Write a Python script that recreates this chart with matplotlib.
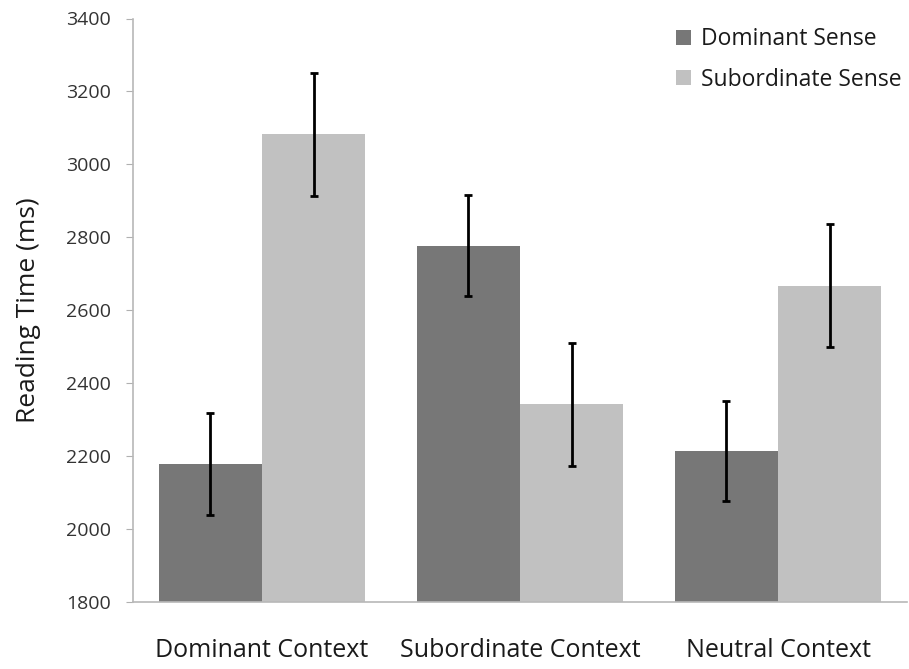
import numpy as np
import matplotlib.pyplot as plt

plt.rcParams["font.family"] = ["Open Sans", "DejaVu Sans"]

contexts = ["Dominant Context", "Subordinate Context", "Neutral Context"]
dominant = [2177, 2777, 2213]
dominant_err = [140, 139, 138]
subordinate = [3082, 2342, 2667]
subordinate_err = [169, 169, 168]

fig = plt.figure(figsize=(9.09, 6.69), dpi=100)
ax = fig.add_axes([133 / 909, 67.3 / 669, 774 / 909, 583.2 / 669])

x = np.arange(len(contexts))
w = 0.4
ax.bar(x - w / 2, dominant, w, color="#777777", label="Dominant Sense", zorder=2)
ax.bar(x + w / 2, subordinate, w, color="#c1c1c1", label="Subordinate Sense", zorder=2)
ax.errorbar(x - w / 2, dominant, yerr=dominant_err, fmt="none", ecolor="black",
            elinewidth=2, capsize=3, capthick=2, zorder=3)
ax.errorbar(x + w / 2, subordinate, yerr=subordinate_err, fmt="none", ecolor="black",
            elinewidth=2, capsize=3, capthick=2, zorder=3)

ax.set_xlim(-0.5, 2.5)
ax.set_ylim(1800, 3400)
ax.set_yticks(np.arange(1800, 3401, 200))
ax.set_xticks(x)
ax.set_xticklabels(contexts, fontsize=18, color="#1a1a1a")
ax.tick_params(axis="x", length=0, pad=26)
ax.tick_params(axis="y", length=5, color="#b0b0b0", labelsize=14, labelcolor="#333333", pad=11)

for s in ["top", "right"]:
    ax.spines[s].set_visible(False)
for s in ["left", "bottom"]:
    ax.spines[s].set_color("#b8b8b8")
    ax.spines[s].set_linewidth(1.2)

ax.set_ylabel("Reading Time (ms)", fontsize=19, color="#1a1a1a", labelpad=18)

ax.legend(loc="upper right", bbox_to_anchor=(1.02, 1.02), frameon=False, fontsize=16.5,
          handlelength=0.65, handleheight=0.65, handletextpad=0.45, labelspacing=0.7,
          labelcolor="#1a1a1a")

fig.savefig("out.png", dpi=100)
